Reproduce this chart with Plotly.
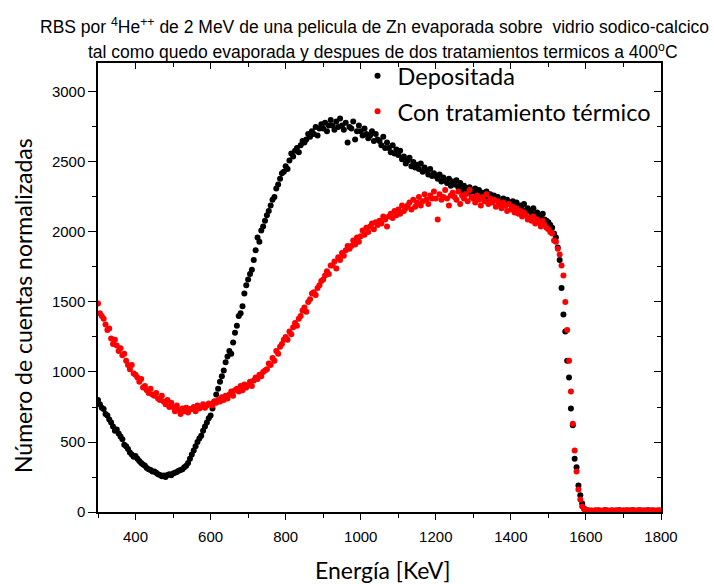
import plotly.graph_objects as go

# Energy channels (keV)
energy = [
    300, 305, 310, 315, 320, 325, 330, 335, 340, 345,
    350, 355, 360, 365, 370, 375, 380, 385, 390, 395,
    400, 405, 410, 415, 420, 425, 430, 435, 440, 445,
    450, 455, 460, 465, 470, 475, 480, 485, 490, 495,
    500, 505, 510, 515, 520, 525, 530, 535, 540, 545,
    550, 555, 560, 565, 570, 575, 580, 585, 590, 595,
    600, 605, 610, 615, 620, 625, 630, 635, 640, 645,
    650, 655, 660, 665, 670, 675, 680, 685, 690, 695,
    700, 705, 710, 715, 720, 725, 730, 735, 740, 745,
    750, 755, 760, 765, 770, 775, 780, 785, 790, 795,
    800, 805, 810, 815, 820, 825, 830, 835, 840, 845,
    850, 855, 860, 865, 870, 875, 880, 885, 890, 895,
    900, 905, 910, 915, 920, 925, 930, 935, 940, 945,
    950, 955, 960, 965, 970, 975, 980, 985, 990, 995,
    1000, 1005, 1010, 1015, 1020, 1025, 1030, 1035, 1040, 1045,
    1050, 1055, 1060, 1065, 1070, 1075, 1080, 1085, 1090, 1095,
    1100, 1105, 1110, 1115, 1120, 1125, 1130, 1135, 1140, 1145,
    1150, 1155, 1160, 1165, 1170, 1175, 1180, 1185, 1190, 1195,
    1200, 1205, 1210, 1215, 1220, 1225, 1230, 1235, 1240, 1245,
    1250, 1255, 1260, 1265, 1270, 1275, 1280, 1285, 1290, 1295,
    1300, 1305, 1310, 1315, 1320, 1325, 1330, 1335, 1340, 1345,
    1350, 1355, 1360, 1365, 1370, 1375, 1380, 1385, 1390, 1395,
    1400, 1405, 1410, 1415, 1420, 1425, 1430, 1435, 1440, 1445,
    1450, 1455, 1460, 1465, 1470, 1475, 1480, 1485, 1490, 1495,
    1500, 1505, 1510, 1515, 1520, 1525, 1530, 1535, 1540, 1545,
    1550, 1555, 1560, 1565, 1570, 1575, 1580, 1585, 1590, 1595,
    1600, 1605, 1610, 1615, 1620, 1625, 1630, 1635, 1640, 1645,
    1650, 1655, 1660, 1665, 1670, 1675, 1680, 1685, 1690, 1695,
    1700, 1705, 1710, 1715, 1720, 1725, 1730, 1735, 1740, 1745,
    1750, 1755, 1760, 1765, 1770, 1775, 1780, 1785, 1790, 1795,
    1800,
]

# "Depositada" counts
depositada = [
    800, 770, 745, 735, 700, 690, 660, 640, 610, 580,
    590, 560, 540, 520, 480, 470, 450, 425, 410, 395,
    400, 380, 365, 350, 340, 330, 315, 305, 300, 290,
    290, 280, 270, 265, 255, 260, 250, 265, 270, 262,
    275, 280, 285, 295, 300, 305, 320, 330, 350, 380,
    410, 440, 470, 500, 525, 545, 580, 610, 640, 670,
    690, 740, 790, 840, 880, 930, 970, 1010, 1070, 1110,
    1150, 1130, 1210, 1280, 1330, 1400, 1420, 1470, 1560, 1620,
    1660, 1700, 1730, 1800, 1870, 1960, 1930, 2010, 2040, 2080,
    2120, 2150, 2190, 2230, 2250, 2310, 2340, 2380, 2420, 2430,
    2470, 2450, 2510, 2560, 2540, 2580, 2600, 2570, 2620, 2650,
    2640, 2660, 2700, 2680, 2720, 2700, 2750, 2690, 2740, 2770,
    2740, 2780, 2720, 2760, 2800, 2760, 2730, 2790, 2750, 2810,
    2760, 2730, 2780, 2640, 2750, 2740, 2790, 2660, 2720, 2760,
    2720, 2690, 2740, 2700, 2670, 2690, 2720, 2650, 2700, 2660,
    2650, 2620, 2680, 2600, 2640, 2600, 2570, 2620, 2560, 2590,
    2550, 2580, 2520, 2540, 2490, 2510, 2530, 2470, 2500, 2460,
    2480, 2450, 2490, 2430, 2460, 2440, 2410, 2450, 2400, 2420,
    2400, 2380, 2410, 2360, 2390, 2370, 2350, 2380, 2330, 2360,
    2340, 2370, 2320, 2350, 2300, 2330, 2310, 2280, 2320, 2290,
    2290, 2310, 2270, 2300, 2260, 2280, 2250, 2290, 2240, 2270,
    2240, 2260, 2230, 2250, 2210, 2220, 2240, 2190, 2230, 2200,
    2200, 2220, 2180, 2210, 2170, 2190, 2160, 2200, 2150, 2170,
    2150, 2140, 2170, 2120, 2140, 2120, 2100, 2130, 2090, 2080,
    2070, 2050, 2030, 1990, 1960, 1890, 1800, 1600, 1410, 1290,
    1080, 960, 740, 620, 380, 320, 190, 120, 60, 25,
    12, 10, 8, 9, 7, 10, 8, 11, 9, 8,
    12, 10, 7, 9, 11, 8, 10, 9, 12, 8,
    10, 9, 11, 8, 10, 12, 9, 8, 10, 11,
    9, 10, 8, 12, 9, 10, 11, 8, 9, 10,
    9,
]

# "Con tratamiento térmico" counts
tratamiento = [
    1490, 1420, 1400, 1380, 1340, 1300, 1310, 1240, 1200, 1230,
    1190, 1150, 1170, 1120, 1130, 1080, 1050, 1020, 1050, 990,
    980, 960, 930, 950, 890, 900, 870, 850, 880, 840,
    830, 850, 810, 800, 830, 790, 770, 800, 750, 780,
    750, 720, 760, 730, 700, 740, 720, 745, 710, 735,
    735, 750, 720, 760, 740, 750, 770, 745, 760, 775,
    770, 760, 790, 780, 800, 790, 820, 800, 830, 810,
    840, 860, 830, 870, 880, 860, 900, 870, 910, 890,
    905, 930, 900, 940, 960, 950, 980, 970, 1000, 1010,
    1020, 1060, 1050, 1100, 1080, 1150, 1130, 1180, 1200, 1230,
    1250, 1230, 1290, 1270, 1320, 1350, 1330, 1380, 1400, 1440,
    1460, 1430, 1500, 1520, 1560, 1570, 1550, 1600, 1620, 1650,
    1660, 1690, 1720, 1700, 1760, 1760, 1790, 1740, 1820, 1800,
    1850, 1830, 1870, 1900, 1880, 1900, 1940, 1910, 1960, 1930,
    1970, 2010, 1980, 2030, 2000, 2040, 2060, 2020, 2070, 2050,
    2080, 2060, 2110, 2090, 2040, 2110, 2130, 2100, 2150, 2120,
    2160, 2130, 2190, 2150, 2170, 2190, 2210, 2160, 2230, 2180,
    2210, 2250, 2190, 2220, 2270, 2230, 2200, 2260, 2240, 2290,
    2240, 2090, 2270, 2230, 2250, 2300, 2240, 2190, 2260, 2280,
    2250, 2230, 2290, 2200, 2260, 2240, 2270, 2220, 2300, 2250,
    2240, 2210, 2260, 2230, 2190, 2250, 2220, 2270, 2200, 2240,
    2210, 2230, 2180, 2220, 2200, 2170, 2210, 2190, 2150, 2200,
    2160, 2180, 2140, 2170, 2130, 2150, 2110, 2140, 2120, 2090,
    2100, 2080, 2110, 2060, 2090, 2070, 2040, 2080, 2050, 2030,
    2020, 2000, 1990, 1940, 1930, 1880, 1840, 1760, 1690, 1500,
    1300, 1080, 860, 630, 440, 290, 160, 90, 40, 20,
    14, 12, 10, 11, 9, 10, 12, 10, 9, 11,
    10, 12, 9, 10, 11, 10, 9, 12, 10, 11,
    9, 10, 12, 11, 10, 9, 10, 11, 12, 10,
    11, 9, 10, 12, 10, 11, 9, 10, 11, 10,
    10,
]

x_tick_vals = [400, 600, 800, 1000, 1200, 1400, 1600, 1800]
y_tick_vals = [0, 500, 1000, 1500, 2000, 2500, 3000]

title_line1 = "RBS por <sup>4</sup>He<sup>++</sup> de 2 MeV de una pelicula de Zn evaporada sobre  vidrio sodico-calcico"
title_line2 = "tal como quedo evaporada y despues de dos tratamientos termicos a 400<sup>o</sup>C"
x_title = "Energía [KeV]"
y_title = "Número de cuentas normalizadas"

fig = go.Figure()
fig.add_trace(go.Scatter(
    x=energy, y=depositada, mode="markers", name="Depositada",
    legendgroup="a",
    marker=dict(color="black", size=6, line=dict(width=0)),
))
fig.add_trace(go.Scatter(
    x=energy, y=tratamiento, mode="markers", name="Con tratamiento térmico",
    legendgroup="b",
    marker=dict(color="#ff0000", size=6, line=dict(width=0)),
))

axis_font = dict(family="Liberation Sans, Arial", size=15, color="black")
title_font = dict(family="Liberation Sans, Arial", size=17.5, color="black")
label_font = dict(family="Lato", size=23, color="black")

fig.update_layout(
    width=714, height=584,
    margin=dict(l=98, r=53, t=63, b=72, autoexpand=False),
    paper_bgcolor="white", plot_bgcolor="white",
    showlegend=True,
    legend=dict(
        x=0.461, y=1.02, xanchor="left", yanchor="top",
        bgcolor="rgba(0,0,0,0)", borderwidth=0,
        font=dict(family="Lato", size=23.5, color="black"),
        tracegroupgap=2,
    ),
    xaxis=dict(
        range=[300, 1800], tickvals=x_tick_vals, ticks="outside",
        ticklen=6, tickwidth=1.3, tickcolor="black",
        showline=True, linecolor="black", linewidth=1.5,
        showgrid=False, zeroline=False, tickfont=axis_font,
        ticklabelstandoff=4, automargin=False,
        minor=dict(dtick=100, tick0=300, ticks="outside", ticklen=4, tickwidth=1.3, tickcolor="black"),
    ),
    yaxis=dict(
        range=[0, 3207], tickvals=y_tick_vals, ticks="outside",
        ticklen=8, tickwidth=1.3, tickcolor="black",
        showline=True, linecolor="black", linewidth=1.5,
        showgrid=False, zeroline=False, tickfont=axis_font, automargin=False,
        minor=dict(dtick=250, tick0=0, ticks="outside", ticklen=4, tickwidth=1.3, tickcolor="black"),
    ),
    xaxis2=dict(
        overlaying="x", side="top", matches="x", range=[300, 1800],
        tickvals=x_tick_vals, ticks="inside", ticklen=6, tickwidth=1.3, tickcolor="black",
        showticklabels=False, showline=True, linecolor="black", linewidth=1.5,
        showgrid=False, zeroline=False, anchor="y",
        minor=dict(dtick=100, tick0=300, ticks="inside", ticklen=4, tickwidth=1.3, tickcolor="black"),
    ),
    yaxis2=dict(
        overlaying="y", side="right", matches="y", range=[0, 3207],
        tickvals=y_tick_vals, ticks="inside", ticklen=7, tickwidth=1.3, tickcolor="black",
        showticklabels=False, showline=True, linecolor="black", linewidth=1.5,
        showgrid=False, zeroline=False, anchor="x",
        minor=dict(dtick=250, tick0=0, ticks="inside", ticklen=4, tickwidth=1.3, tickcolor="black"),
    ),
    annotations=[
        dict(text=title_line1, xref="paper", yref="paper", x=(374 - 98) / 563, y=1.0 + 37 / 449,
             xanchor="center", yanchor="middle", showarrow=False, font=title_font),
        dict(text=title_line2, xref="paper", yref="paper", x=(383 - 98) / 563, y=1.0 + 12 / 449,
             xanchor="center", yanchor="middle", showarrow=False, font=title_font),
        dict(text=x_title, xref="paper", yref="paper", x=(382 - 98) / 563, y=(512 - 570) / 449,
             xanchor="center", yanchor="middle", showarrow=False, font=label_font),
        dict(text=y_title, xref="paper", yref="paper", x=(23 - 98) / 563, y=(512 - 306) / 449,
             xanchor="center", yanchor="middle", showarrow=False, textangle=-90, font=label_font),
    ],
)

# invisible trace so the mirrored (top/right) axes render
fig.add_trace(go.Scatter(x=[energy[0]], y=[depositada[0]], xaxis="x2", yaxis="y2",
                         mode="markers", marker=dict(opacity=0), showlegend=False, hoverinfo="skip"))

fig.write_html("out.html", config={"displayModeBar": False},
               post_script="document.body.style.margin='0';")
